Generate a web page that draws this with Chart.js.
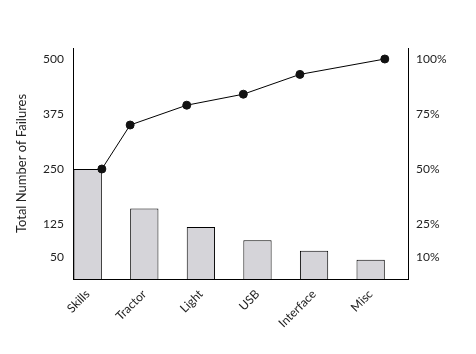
<!DOCTYPE html>
<html>
<head>
<meta charset="utf-8">
<script src="https://cdn.jsdelivr.net/npm/chart.js@4/dist/chart.umd.min.js"></script>
<style>
  body { margin: 0; background: #fff; }
</style>
</head>
<body>
<canvas id="pareto" width="476" height="354"></canvas>
<script>
const categories = ['Skills', 'Tractor', 'Light', 'USB', 'Interface', 'Misc'];
const failures = [250, 160, 118, 88, 64, 44];
// cumulative line (percent)
const cumPct = [50, 70, 79, 84, 93, 100];
// where the line points sit along the category axis (bar edges)
const linePos = [0.25, 0.75, 1.75, 2.75, 3.75, 5.25];
const leftTicks = [50, 125, 250, 375, 500];
const rightTicks = [10, 25, 50, 75, 100];

const font = { family: 'Lato', size: 12 };

const data = {
  datasets: [{
    type: 'line',
    label: 'Cumulative',
    data: cumPct.map((v, i) => ({ x: linePos[i], y: v })),
    yAxisID: 'y2',
    borderColor: '#000',
    borderWidth: 1,
    pointRadius: 4,
    pointBackgroundColor: '#111',
    pointBorderColor: '#111',
    tension: 0,
    order: 0
  }, {
    type: 'bar',
    label: 'Failures',
    data: failures.map((v, i) => ({ x: i, y: v })),
    yAxisID: 'y',
    backgroundColor: '#d5d4d9',
    borderColor: '#000',
    borderWidth: 1,
    barPercentage: 0.5,
    categoryPercentage: 1,
    order: 1
  }]
};

const config = {
  type: 'bar',
  data: data,
  options: {
    responsive: false,
    animation: false,
    devicePixelRatio: 1,
    layout: {
      padding: { top: 48, bottom: 0, left: 0, right: 0 }
    },
    plugins: {
      legend: { display: false },
      tooltip: { enabled: false }
    },
    scales: {
      x: {
        type: 'linear',
        offset: false,
        min: -0.26,
        max: 5.66,
        grid: { display: false, drawTicks: false },
        border: { color: '#000', width: 1 },
        afterBuildTicks: s => { s.ticks = categories.map((c, i) => ({ value: i })); },
        afterFit: s => { s.height = 75; s.paddingLeft = 0; s.paddingRight = 0; },
        ticks: {
          autoSkip: false,
          minRotation: 45,
          maxRotation: 45,
          padding: 8,
          color: '#222',
          font: font,
          callback: v => categories[v]
        }
      },
      y: {
        position: 'left',
        min: 0,
        max: 525,
        grid: { display: false, drawTicks: false },
        border: { color: '#000', width: 1 },
        afterBuildTicks: s => { s.ticks = leftTicks.map(v => ({ value: v })); },
        afterFit: s => { s.width = 73; s.paddingTop = 0; s.paddingBottom = 0; },
        ticks: { padding: 9, color: '#222', font: font },
        title: {
          display: true,
          text: 'Total Number of Failures',
          color: '#222',
          font: { family: 'Lato', size: 13 },
          padding: { top: 14, bottom: 0 }
        }
      },
      y2: {
        position: 'right',
        min: 0,
        max: 105,
        grid: { display: false, drawTicks: false },
        border: { color: '#000', width: 1 },
        afterBuildTicks: s => { s.ticks = rightTicks.map(v => ({ value: v })); },
        afterFit: s => { s.width = 68; s.paddingTop = 0; s.paddingBottom = 0; },
        ticks: {
          padding: 8,
          color: '#222',
          font: font,
          callback: v => v + '%'
        }
      }
    }
  }
};

const paretoChart = new Chart(document.getElementById('pareto'), config);
</script>
</body>
</html>
